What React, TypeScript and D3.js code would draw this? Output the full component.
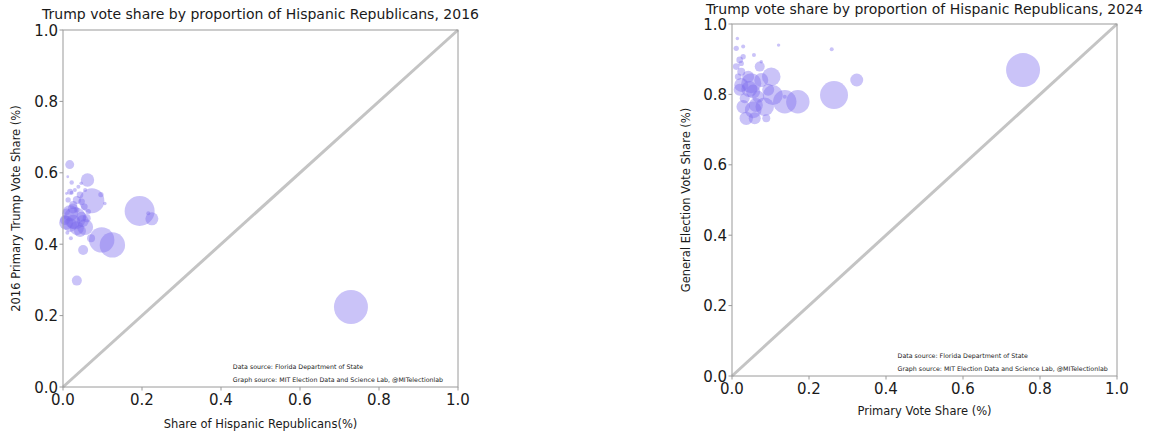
import React from 'react';
import * as d3 from 'd3';

const tickValues = [0, 0.2, 0.4, 0.6, 0.8, 1.0];

// 2016 counties: share of Hispanic Republicans, Trump primary share, bubble size
const hispanicShare2016 = [
  0.729, 0.194, 0.125, 0.098, 0.073, 0.225, 0.216, 0.096, 0.106, 0.056,
  0.030, 0.062, 0.017, 0.071, 0.051, 0.035, 0.020, 0.011, 0.012, 0.022,
  0.018, 0.039, 0.046, 0.013, 0.026, 0.009, 0.043, 0.054, 0.035, 0.005,
  0.018, 0.035, 0.026, 0.047, 0.060, 0.022, 0.035, 0.047, 0.064, 0.009,
  0.030, 0.056, 0.018, 0.043, 0.008, 0.050, 0.025,
];
const trumpPrimary2016 = [
  0.224, 0.493, 0.398, 0.412, 0.522, 0.471, 0.487, 0.539, 0.514, 0.448,
  0.473, 0.580, 0.623, 0.417, 0.384, 0.298, 0.417, 0.432, 0.589, 0.573,
  0.547, 0.561, 0.571, 0.524, 0.510, 0.491, 0.538, 0.505, 0.496, 0.468,
  0.454, 0.445, 0.463, 0.477, 0.473, 0.544, 0.524, 0.519, 0.491, 0.542,
  0.552, 0.552, 0.487, 0.437, 0.460, 0.465, 0.500,
];
const voters2016 = [
  289, 225, 161, 161, 156, 42, 4, 7, 3, 64,
  121, 45, 20, 16, 25, 25, 4, 4, 2, 5,
  9, 4, 3, 7, 16, 11, 11, 11, 7, 25,
  49, 49, 49, 25, 16, 4, 16, 11, 7, 2,
  4, 4, 64, 36, 49, 36, 25,
];

// 2024 counties: primary share, general election share, bubble size
const primaryShare2024 = [
  0.756, 0.265, 0.324, 0.259, 0.171, 0.137, 0.106, 0.085, 0.055, 0.029,
  0.037, 0.102, 0.050, 0.024, 0.072, 0.055, 0.024, 0.020, 0.029, 0.024,
  0.011, 0.029, 0.014, 0.057, 0.076, 0.121, 0.011, 0.016, 0.076, 0.094,
  0.042, 0.068, 0.033, 0.089, 0.137, 0.059, 0.020, 0.045, 0.062,
];
const generalShare2024 = [
  0.869, 0.798, 0.841, 0.928, 0.779, 0.779, 0.798, 0.765, 0.756, 0.765,
  0.732, 0.850, 0.832, 0.827, 0.879, 0.808, 0.864, 0.898, 0.907, 0.888,
  0.931, 0.936, 0.959, 0.912, 0.893, 0.940, 0.879, 0.850, 0.841, 0.813,
  0.850, 0.793, 0.789, 0.732, 0.793, 0.732, 0.813, 0.815, 0.770,
];
const voters2024 = [
  289, 196, 42, 4, 137, 137, 100, 86, 69, 45,
  45, 86, 100, 49, 25, 49, 16, 11, 7, 7,
  7, 4, 3, 4, 3, 3, 11, 11, 49, 36,
  36, 36, 25, 16, 4, 36, 36, 64, 49,
];

const sources = [
  'Data source: Florida Department of State',
  'Graph source: MIT Election Data and Science Lab, @MITelectionlab',
];

const FONT = '"DejaVu Sans", sans-serif';
const BUBBLE = '#7B68EE';

type PanelProps = {
  left: number;
  top: number;
  width: number;
  height: number;
  title: string;
  titleY: number;
  xLabel: string;
  xLabelY: number;
  yLabel: string;
  yLabelX: number;
  xs: number[];
  ys: number[];
  sizes: number[];
};

function Panel(p: PanelProps) {
  const x = d3.scaleLinear().domain([0, 1]).range([p.left, p.left + p.width]);
  const y = d3.scaleLinear().domain([0, 1]).range([p.top + p.height, p.top]);
  const r = d3.scaleSqrt().domain([0, 289]).range([0, 17]);
  const bottom = p.top + p.height;
  const line = d3.line<number>().x((v) => x(v)).y((v) => y(v));
  const fmt = d3.format('.1f');
  const cx = p.left + p.width / 2;
  const cy = p.top + p.height / 2;
  return (
    <g fontFamily={FONT}>
      <text x={cx} y={p.titleY} textAnchor="middle" fontSize={14} fill="#1a1a1a">
        {p.title}
      </text>
      <path d={line([0, 1]) ?? ''} stroke="#c4c4c4" strokeWidth={3} fill="none" />
      {p.xs.map((v, i) => (
        <circle
          key={i}
          cx={x(v)}
          cy={y(p.ys[i])}
          r={r(p.sizes[i])}
          fill={BUBBLE}
          fillOpacity={0.4}
        />
      ))}
      <rect
        x={p.left}
        y={p.top}
        width={p.width}
        height={p.height}
        fill="none"
        stroke="#9a9a9a"
        strokeWidth={1}
      />
      {tickValues.map((t) => (
        <g key={'x' + t}>
          <line x1={x(t)} x2={x(t)} y1={bottom} y2={bottom + 3.5} stroke="#9a9a9a" />
          <text x={x(t)} y={bottom + 18} textAnchor="middle" fontSize={15} fill="#1a1a1a">
            {fmt(t)}
          </text>
        </g>
      ))}
      {tickValues.map((t) => (
        <g key={'y' + t}>
          <line x1={p.left - 3.5} x2={p.left} y1={y(t)} y2={y(t)} stroke="#9a9a9a" />
          <text
            x={p.left - 5}
            y={y(t) + 5.5}
            textAnchor="end"
            fontSize={15}
            fill="#1a1a1a"
          >
            {fmt(t)}
          </text>
        </g>
      ))}
      <text x={cx} y={p.xLabelY} textAnchor="middle" fontSize={11.5} fill="#1a1a1a">
        {p.xLabel}
      </text>
      <text
        transform={`translate(${p.yLabelX},${cy}) rotate(-90)`}
        textAnchor="middle"
        fontSize={11.5}
        fill="#1a1a1a"
      >
        {p.yLabel}
      </text>
      {sources.map((s, i) => (
        <text
          key={s}
          x={x(0.43)}
          y={bottom - 18 + i * 12.5}
          fontSize={6.3}
          fill="#1a1a1a"
        >
          {s}
        </text>
      ))}
    </g>
  );
}

export default function App() {
  return (
    <svg
      width={1149}
      height={433}
      style={{ position: 'absolute', left: 0, top: 0, background: '#fff' }}
    >
      <Panel
        left={63}
        top={30}
        width={395}
        height={357}
        title="Trump vote share by proportion of Hispanic Republicans, 2016"
        titleY={19}
        xLabel="Share of Hispanic Republicans(%)"
        xLabelY={428}
        yLabel="2016 Primary Trump Vote Share (%)"
        yLabelX={20}
        xs={hispanicShare2016}
        ys={trumpPrimary2016}
        sizes={voters2016}
      />
      <Panel
        left={732}
        top={24}
        width={385}
        height={352}
        title="Trump vote share by proportion of Hispanic Republicans, 2024"
        titleY={14}
        xLabel="Primary Vote Share (%)"
        xLabelY={415}
        yLabel="General Election Vote Share (%)"
        yLabelX={690}
        xs={primaryShare2024}
        ys={generalShare2024}
        sizes={voters2024}
      />
    </svg>
  );
}
